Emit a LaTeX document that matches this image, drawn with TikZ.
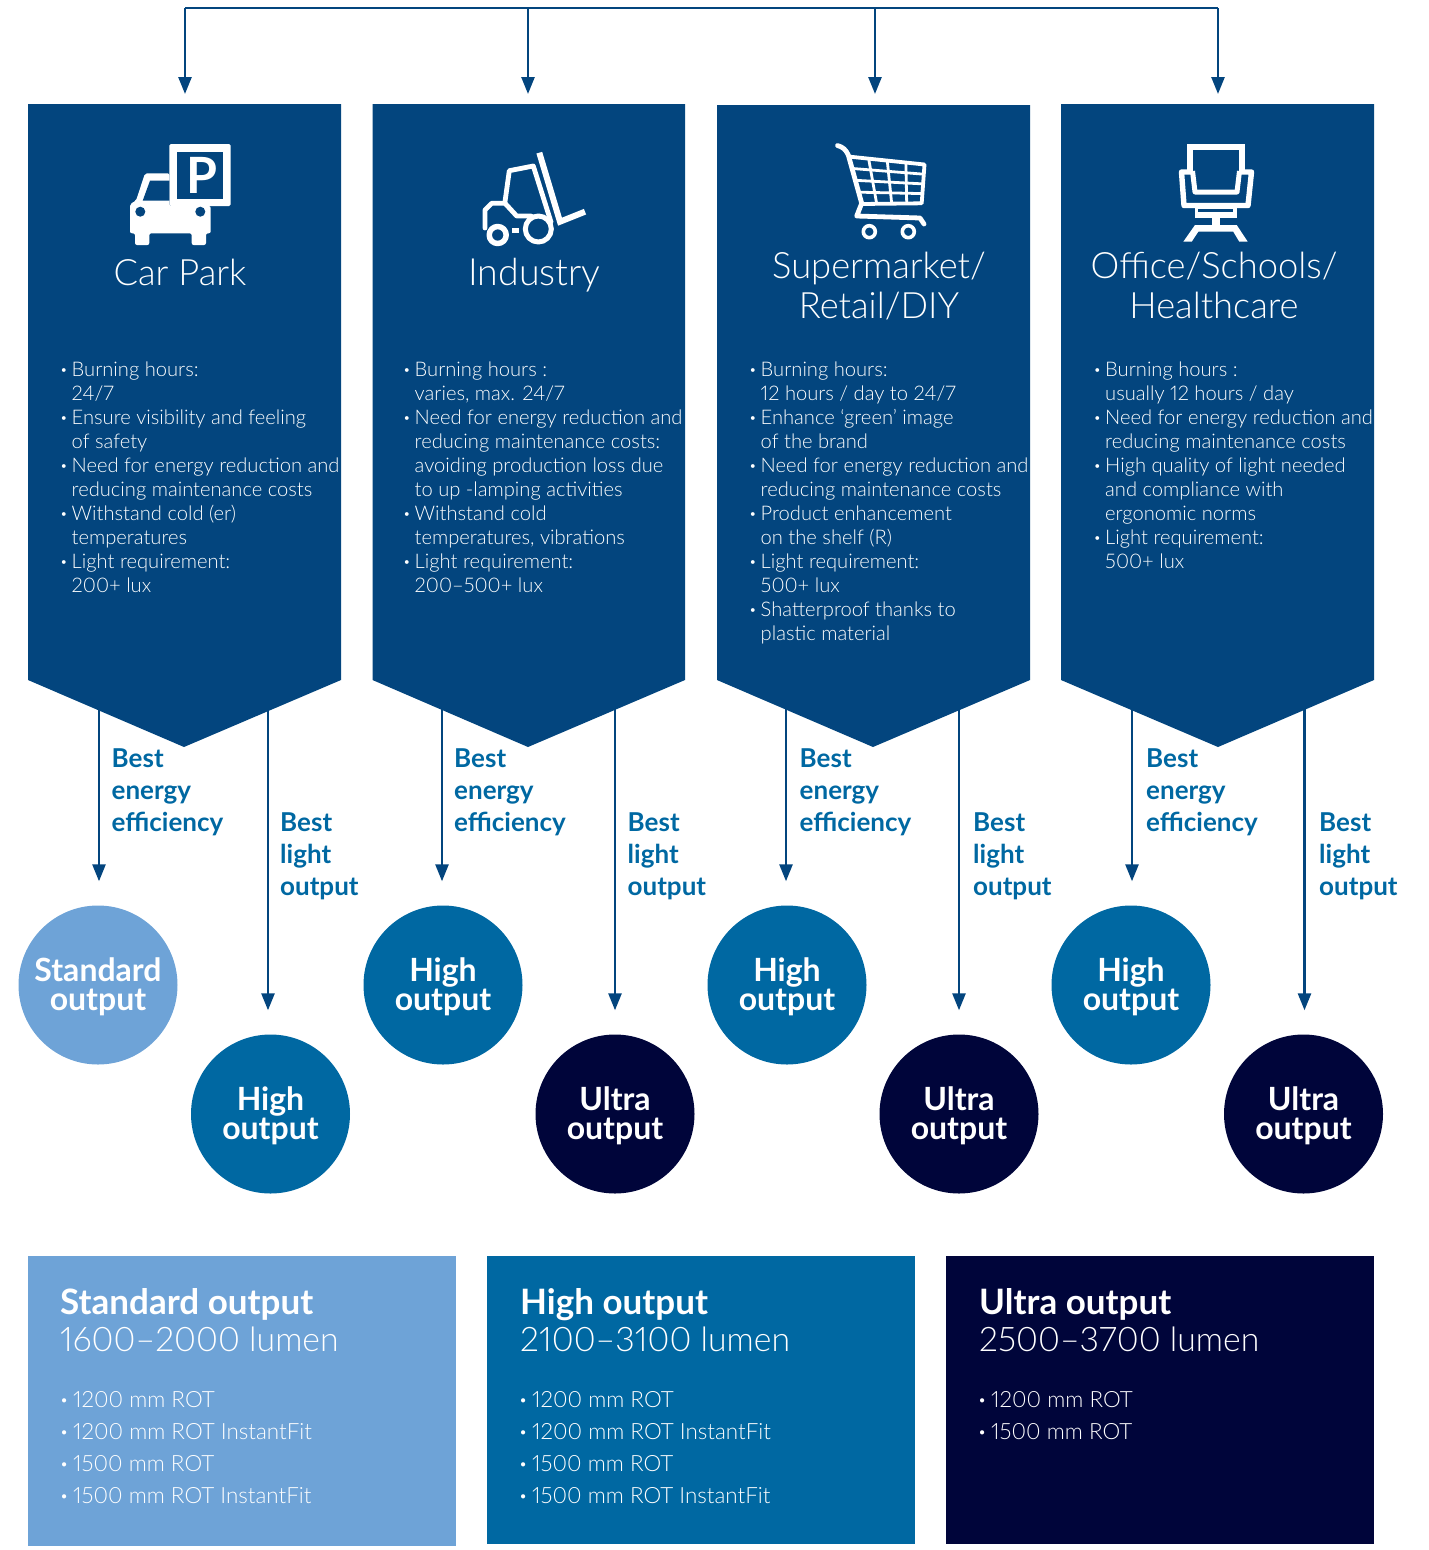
\documentclass[tikz,border=0pt]{standalone}
\usepackage{fontspec}
\setmainfont{Lato}[UprightFont=* Light,BoldFont=*,Numbers=Proportional]
\newfontfamily\bfam{Lato}[UprightFont=* Bold]
\usetikzlibrary{arrows.meta,calc}
\definecolor{pblue}{HTML}{03457E}
\definecolor{midblue}{HTML}{0068A2}
\definecolor{lightb}{HTML}{6EA3D7}
\definecolor{navy}{HTML}{00053A}
\newcommand{\bl}{\makebox[10.5pt][l]{\bfam ·}}
\newcommand{\bll}{\makebox[12pt][l]{\bfam ·}}
\newcommand{\cn}{\hspace*{10.5pt}}
\newcommand{\dsk}{\rule{0pt}{28pt}}
\newcommand{\lmn}[1]{{\fontsize{33.8}{37}\selectfont #1}}
\tikzset{
 x=1pt,y=-1pt,
 panel/.style={fill=pblue,draw=none},
 arrowline/.style={draw=pblue,line width=2.6pt,-{Stealth[length=17pt,width=13pt,inset=0pt]}},
 toplink/.style={draw=pblue,line width=2.4pt},
 title/.style={text=white,font=\fontsize{36.3}{40}\selectfont,align=center,inner sep=0pt},
 body/.style={text=white,font=\fontsize{20.15}{24}\selectfont,align=left,anchor=north west,inner sep=0pt},
 lab/.style={text=midblue,font=\fontsize{26}{32}\selectfont\bfam,align=left,anchor=north west,inner sep=0pt},
 disc/.style={circle,minimum size=159pt,inner sep=0pt,text=white,align=center,font=\fontsize{32}{29.3}\selectfont\bfam},
 outbox/.style={text=white,align=left,anchor=north west,inner sep=0pt,font=\fontsize{35}{37}\selectfont},
 lst/.style={text=white,align=left,anchor=north west,inner sep=0pt,font=\fontsize{22.4}{32}\selectfont},
 ico/.style={draw=white,line join=round,line cap=round},
}
\begin{document}
\begin{tikzpicture}
\useasboundingbox (0,0) rectangle (1429,1550);
% panels
\fill[panel] (28,104) -- (341,104) -- (341,680) -- (184,747) -- (28,680) -- cycle;
\fill[panel] (372.5,104) -- (685,104) -- (685,680) -- (528,747) -- (372.5,680) -- cycle;
\fill[panel] (717,105) -- (1030,105) -- (1030,680) -- (873,747) -- (717,680) -- cycle;
\fill[panel] (1061,104) -- (1374,104) -- (1374,680) -- (1218,747) -- (1061,680) -- cycle;
% top connector
\coordinate (t1) at (185,8);\coordinate (t2) at (528,8);\coordinate (t3) at (875,8);\coordinate (t4) at (1218,8);
\coordinate (p1) at (185,94);\coordinate (p2) at (528,94);\coordinate (p3) at (875,94);\coordinate (p4) at (1218,94);
\draw[toplink] (t1) -- (t4);
\foreach \i in {1,2,3,4}{\draw[arrowline] (t\i) -- (p\i);}
% titles
\node[title] (n1) at (180,272) {Car Park};
\node[title,font=\fontsize{37.5}{40}\selectfont] (n2) at (534.5,275) {Industry};
\node[title] (n3) at (879,286.5) {Supermarket/\\Retail/DIY};
\node[title] (n4) at (1214,285.5) {Office/Schools/\\Healthcare};
% body
\node[body] (b1) at (61,361.5) {\bl Burning hours:\\\cn 24/7\\\bl Ensure visibility and feeling\\\cn of safety\\\bl Need for energy reduction and\\\cn reducing maintenance costs\\\bl Withstand cold (er)\\\cn temperatures\\\bl Light requirement:\\\cn 200+ lux};
\node[body] (b2) at (404,361.5) {\bl Burning hours :\\\cn varies, max. 24/7\\\bl Need for energy reduction and\\\cn reducing maintenance costs:\\\cn avoiding production loss due\\\cn to up -lamping activities\\\bl Withstand cold\\\cn temperatures, vibrations\\\bl Light requirement:\\\cn 200–500+ lux};
\node[body] (b3) at (750,361.5) {\bl Burning hours:\\\cn 12 hours / day to 24/7\\\bl Enhance ‘green’ image\\\cn of the brand\\\bl Need for energy reduction and\\\cn reducing maintenance costs\\\bl Product enhancement\\\cn on the shelf (R)\\\bl Light requirement:\\\cn 500+ lux\\\bl Shatterproof thanks to\\\cn plastic material};
\node[body] (b4) at (1094.5,361.5) {\bl Burning hours :\\\cn usually 12 hours / day\\\bl Need for energy reduction and\\\cn reducing maintenance costs\\\bl High quality of light needed\\\cn and compliance with\\\cn ergonomic norms\\\bl Light requirement:\\\cn 500+ lux};
% icons ------------------------------------------------
% car
\fill[white,rounded corners=1.5pt] (169.3,144) rectangle (230.7,206);
\fill[pblue] (177,151.7) rectangle (223,199);
\node[text=white,inner sep=0pt,font=\fontsize{50}{50}\selectfont\bfam] (pk) at (201.5,175.5) {P};
\fill[white,rounded corners=2pt] (145,173.3) -- (169.3,173.3) -- (169.3,206) -- (210.7,206) -- (210.7,233.3) -- (206,233.3) -- (206,245) -- (191.7,245) -- (191.7,233.3) -- (149.3,233.3) -- (149.3,245) -- (135,245) -- (135,233.3) -- (130,233.3) -- (130,204) -- (136,200.7) -- cycle;
\fill[pblue] (150,180.7) -- (169.3,180.7) -- (169.3,200.7) -- (142.7,200.7) -- cycle;
\fill[pblue] (140.3,211.7) circle (5) (200.3,211.7) circle (5);
% forklift
\draw[ico,line width=6pt,line cap=butt,line join=miter] (539.3,152.7) -- (560,221.7) -- (585,211.7);
\draw[ico,line width=4.8pt] (505,201.7) -- (509.3,170.7) -- (533.3,166) -- (551,222);
\draw[ico,line width=4.8pt] (485,228) -- (485,210) -- (491.7,203.3) -- (505,203.3) -- (516.7,216) -- (531,216);
\draw[ico,line width=5.5pt] (497.7,235) circle (8.5);
\draw[ico,line width=5pt] (538.3,229) circle (13);
\fill[white] (511.7,228) rectangle (519.3,233.3);
% cart
\draw[ico,line width=4.8pt] (837.5,145.5) .. controls (843,147) and (846,150) .. (848.3,155) -- (861.7,203.3) -- (856.7,216) -- (920,218) -- (924,224);
\draw[ico,line width=3.8pt] (850,156.7) -- (924.5,164.5) -- (921.7,203.3) -- (861.7,204);
\foreach \t in {.25,.5,.75}{
  \draw[ico,line width=2.8pt,line cap=butt] ($(850,156.7)!\t!(861.7,204)$) -- ($(924.5,164.5)!\t!(921.7,203.3)$);
}
\foreach \t in {.25,.5,.75}{
  \draw[ico,line width=2.8pt,line cap=butt] ($(850,156.7)!\t!(924.5,164.5)$) -- ($(861.7,204)!\t!(921.7,203.3)$);
}
\draw[ico,line width=3.6pt] (869.3,231.7) circle (6) (908.3,231.7) circle (6);
% chair
\draw[ico,line width=6pt,line cap=butt,line join=miter] (1189.7,172) -- (1189.7,147) -- (1241.7,147) -- (1241.7,172);
\draw[ico,line width=5pt,line cap=butt] (1192.5,171) -- (1195,192) -- (1237,192) -- (1239.5,171);
\draw[ico,line width=5.4pt,line cap=butt] (1192,172) -- (1181.5,172) -- (1184,205.5) -- (1248,205.5) -- (1251.5,172) -- (1241,172);
\fill[white] (1195,206) rectangle (1236.7,217.5);
\fill[pblue] (1198,208.5) rectangle (1233,212);
\fill[white] (1211.7,217) rectangle (1220,225);
\fill[white] (1183.3,241.7) -- (1195,225) -- (1236.7,225) -- (1247.7,241.7) -- (1239.3,241.7) -- (1233.3,231.7) -- (1198.3,231.7) -- (1191.7,241.7) -- cycle;
% discs
\node[disc,fill=lightb] (c1) at (98,985) {\dsk Standard\\output};
\node[disc,fill=midblue] (c2) at (270.5,1114) {\dsk High\\output};
\node[disc,fill=midblue] (c3) at (443,985) {\dsk High\\output};
\node[disc,fill=navy] (c4) at (615,1114) {\dsk Ultra\\output};
\node[disc,fill=midblue] (c5) at (787,985) {\dsk High\\output};
\node[disc,fill=navy] (c6) at (959,1114) {\dsk Ultra\\output};
\node[disc,fill=midblue] (c7) at (1131,985) {\dsk High\\output};
\node[disc,fill=navy] (c8) at (1303.5,1114) {\dsk Ultra\\output};
% connectors
\coordinate (s1) at (99,708);\coordinate (s2) at (268,708);\coordinate (s3) at (442,708);\coordinate (s4) at (615,708);
\coordinate (s5) at (786,708);\coordinate (s6) at (959,708);\coordinate (s7) at (1132,708);\coordinate (s8) at (1304.5,708);
\foreach \i in {1,...,8}{\draw[arrowline,shorten >=24pt] (s\i) -- (s\i |- c\i.north);}
% labels
\node[lab] (l1) at (111.5,748.5) {Best\\energy\\efficiency};
\node[lab] (l2) at (280,812.5) {Best\\light\\output};
\node[lab] (l3) at (454,748.5) {Best\\energy\\efficiency};
\node[lab] (l4) at (627.5,812.5) {Best\\light\\output};
\node[lab] (l5) at (799.5,748.5) {Best\\energy\\efficiency};
\node[lab] (l6) at (973,812.5) {Best\\light\\output};
\node[lab] (l7) at (1146,748.5) {Best\\energy\\efficiency};
\node[lab] (l8) at (1319,812.5) {Best\\light\\output};
% bottom boxes
\fill[lightb] (28,1256) rectangle (456,1546);
\fill[midblue] (487,1256) rectangle (915,1544);
\fill[navy] (946,1256) rectangle (1374,1544);
\node[outbox] (h1) at (60,1288) {{\bfam Standard output}\\\lmn{1600–2000 lumen}};
\node[outbox] (h2) at (520,1288) {{\bfam High output}\\\lmn{2100–3100 lumen}};
\node[outbox] (h3) at (979,1288) {{\bfam Ultra output}\\\lmn{2500–3700 lumen}};
\node[lst] (i1) at (61,1391) {\bll 1200 mm ROT\\\bll 1200 mm ROT InstantFit\\\bll 1500 mm ROT\\\bll 1500 mm ROT InstantFit};
\node[lst] (i2) at (520,1391) {\bll 1200 mm ROT\\\bll 1200 mm ROT InstantFit\\\bll 1500 mm ROT\\\bll 1500 mm ROT InstantFit};
\node[lst] (i3) at (979,1391) {\bll 1200 mm ROT\\\bll 1500 mm ROT};
\end{tikzpicture}
\end{document}
